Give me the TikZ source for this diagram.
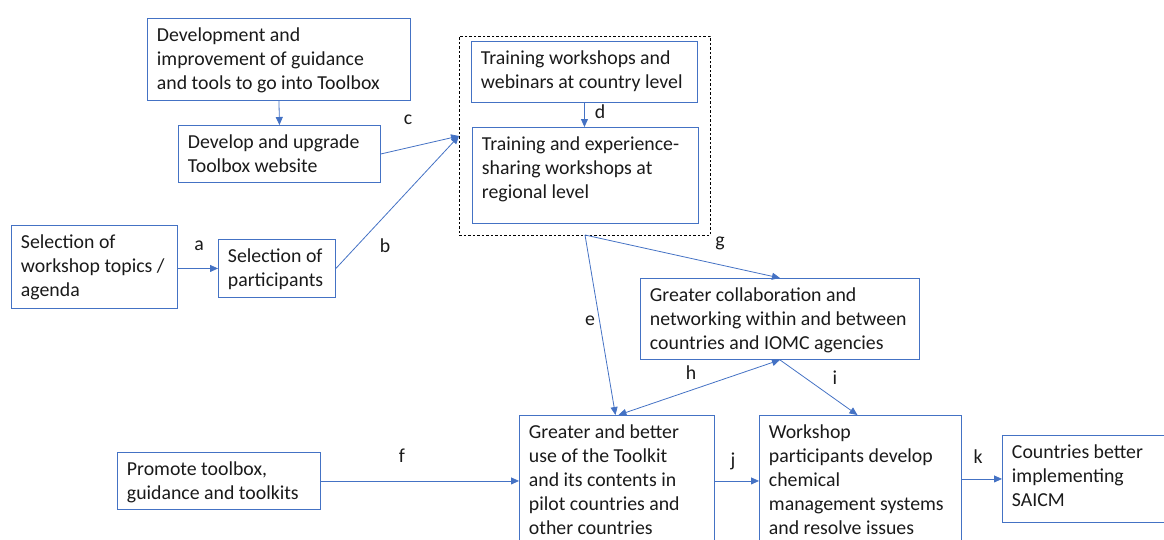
\documentclass[tikz,border=0pt]{standalone}
\usepackage{fontspec}
\setmainfont{Carlito}
\usetikzlibrary{arrows.meta}
\definecolor{oblue}{HTML}{4472C4}
\definecolor{txt}{HTML}{1A1A1A}
\newcommand\bx[3]{\parbox[c][#2pt][t]{#1pt}{\raggedright\rule{0pt}{23.5pt}#3}}
\begin{document}
\begin{tikzpicture}[x=1pt,y=-1pt,
  every node/.style={font=\fontsize{19.8}{24}\selectfont, text=txt},
  box/.style={draw=oblue, line width=0.9pt, inner xsep=9.5pt, inner ysep=0pt, anchor=north west},
  grpbox/.style={draw=black, line width=0.7pt, dash pattern=on 2.5pt off 2pt, inner sep=0pt, anchor=north west},
  arr/.style={draw=oblue, line width=0.8pt, -{Triangle[length=8pt,width=7pt]}},
  darr/.style={draw=oblue, line width=0.8pt, {Triangle[length=8pt,width=7pt]}-{Triangle[length=8pt,width=7pt]}},
  lbl/.style={inner sep=0pt}]
\useasboundingbox (0,0) rectangle (1164,539);
\clip (0,0) rectangle (1164,539);

% dashed group
\node[grpbox, minimum width=251pt, minimum height=199pt] (grp) at (459,36) {};

% boxes
\node[box] (dev) at (147,18) {\bx{244}{82}{\mbox{Development and}\\\mbox{improvement of guidance}\\\mbox{and tools to go into Toolbox}}};
\node[box] (web) at (178,125) {\bx{183}{57}{\mbox{Develop and upgrade}\\\mbox{Toolbox website}}};
\node[box] (country) at (471,41) {\bx{207}{61}{\mbox{Training workshops and}\\\mbox{webinars at country level}}};
\node[box] (region) at (472,127) {\bx{207}{96}{\mbox{Training and experience-}\\\mbox{sharing workshops at}\\\mbox{regional level}}};
\node[box] (topics) at (11,225) {\bx{147}{83}{\mbox{Selection of}\\\mbox{workshop topics /}\\\mbox{agenda}}};
\node[box] (part) at (218,239) {\bx{98}{58}{\mbox{Selection of}\\\mbox{participants}}};
\node[box] (collab) at (640,278) {\bx{260}{81}{\mbox{Greater collaboration and}\\\mbox{networking within and between}\\\mbox{countries and IOMC agencies}}};
\node[box] (use) at (519,415) {\bx{176}{150}{\mbox{Greater and better}\\\mbox{use of the Toolkit}\\\mbox{and its contents in}\\\mbox{pilot countries and}\\\mbox{other countries}}};
\node[box] (work) at (759,415) {\bx{183}{150}{\mbox{Workshop}\\\mbox{participants develop}\\\mbox{chemical}\\\mbox{management systems}\\\mbox{and resolve issues}}};
\node[box] (saicm) at (1002,435) {\bx{151}{87}{\mbox{Countries better}\\\mbox{implementing}\\\mbox{SAICM}}};
\node[box] (promote) at (117,452) {\bx{184}{57}{\mbox{Promote toolbox,}\\\mbox{guidance and toolkits}}};

% connector points on the dashed group
\coordinate (cin) at (459,136);
\coordinate (gout) at (585,235);

% connectors
\draw[arr] (dev.south) -- (web.north);
\draw[arr] (web.east) -- (cin);
\draw[arr] (part.east) -- (cin);
\draw[arr] (part.west -| topics.east) -- (part.west);
\draw[arr] (country.south) -- (country.south |- region.north);
\draw[arr] (gout) -- ([xshift=-1.5pt]use.north);
\draw[arr] (gout) -- (collab.north);
\draw[darr] ([xshift=1.5pt]use.north) -- (collab.south);
\draw[arr] (collab.south) -- ([xshift=-3pt]work.north);
\draw[arr] (promote.east) -- (promote.east -| use.west);
\draw[arr] (promote.east -| use.east) -- (promote.east -| work.west);
\draw[arr] (saicm.west -| work.east) -- (saicm.west);

% labels
\node[lbl] (la) at (199,246) {a};
\node[lbl] (lb) at (385,246) {b};
\node[lbl] (lc) at (408,120) {c};
\node[lbl] (ld) at (600,112) {d};
\node[lbl] (le) at (590,321) {e};
\node[lbl] (lf) at (402,456) {f};
\node[lbl] (lg) at (720,243) {g};
\node[lbl] (lh) at (691,373) {h};
\node[lbl] (li) at (835,378) {i};
\node[lbl] (lj) at (733,461) {j};
\node[lbl] (lk) at (978,457) {k};
\end{tikzpicture}
\end{document}
